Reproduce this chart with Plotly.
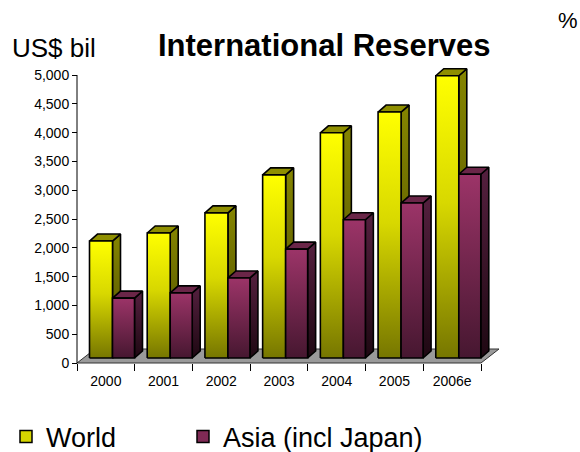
import plotly.graph_objects as go

# ---------------- data ----------------
categories = ["2000", "2001", "2002", "2003", "2004", "2005", "2006e"]
world = [2030, 2170, 2520, 3180, 3910, 4270, 4900]
asia = [1040, 1130, 1390, 1890, 2400, 2690, 3190]
y_tick_values = [0, 500, 1000, 1500, 2000, 2500, 3000, 3500, 4000, 4500, 5000]
y_tick_labels = ["0", "500", "1,000", "1,500", "2,000", "2,500", "3,000",
                 "3,500", "4,000", "4,500", "5,000"]
series_names = ["World", "Asia (incl Japan)"]

# ---------------- layout geometry ----------------
W, H = 580, 452
ml, mr, mt, mb = 60, 60, 60, 72
pw, ph = W - ml - mr, H - mt - mb
n = len(categories)
x0px, x1px = 77, 481
y0px, y5px = 363, 75
cat_px = (x1px - x0px) / n
val_px = (y0px - y5px) / max(y_tick_values)
xr = [(ml - x0px) / cat_px, (W - mr - x0px) / cat_px]
yr = [(y0px - (H - mb)) / val_px, (y0px - mt) / val_px]

FONT = "Arial, Liberation Sans, sans-serif"

lift = 5 / val_px          # bars stand a little behind the front floor edge
ddx = 8 / cat_px           # bar depth offsets
ddy = 7 / val_px
fdx = 18 / cat_px          # floor depth offsets
fdy = 14 / val_px

styles = {
    "World": dict(x_from=12.5 / cat_px, x_to=35.5 / cat_px,
                  front=[[0, "#767600"], [0.55, "#d8d800"], [1, "#ffff00"]],
                  side=[[0, "#4a4a00"], [1, "#858500"]],
                  top="#8f8f00", legend="#d6d600", legend_x=6),
    "Asia (incl Japan)": dict(x_from=35.5 / cat_px, x_to=57.5 / cat_px,
                              front=[[0, "#461730"], [1, "#9c3468"]],
                              side=[[0, "#1e0812"], [1, "#55203f"]],
                              top="#6a2648", legend="#7f2a55", legend_x=183),
}

fig = go.Figure()

# floor
fx = [0, n, n + fdx, fdx, 0]
fy = [0, 0, fdy, fdy, 0]
fig.add_trace(go.Scatter(x=fx, y=fy, fill="toself", fillcolor="#9a9a9a",
                         mode="lines", line=dict(color="#333333", width=1),
                         hoverinfo="skip", showlegend=False))

LW = 1.6
for i, cat in enumerate(categories):
    for name, vals in zip(series_names, [world, asia]):
        st = styles[name]
        xa = i + st["x_from"]
        xb = i + st["x_to"]
        b = lift
        t = lift + vals[i]
        # side face
        fig.add_trace(go.Scatter(
            x=[xb, xb + ddx, xb + ddx, xb, xb],
            y=[b, b + ddy, t + ddy, t, b],
            fill="toself", mode="lines",
            fillgradient=dict(type="vertical", colorscale=st["side"]),
            line=dict(color="black", width=LW),
            hoverinfo="skip", showlegend=False))
        # top face
        fig.add_trace(go.Scatter(
            x=[xa, xb, xb + ddx, xa + ddx, xa],
            y=[t, t, t + ddy, t + ddy, t],
            fill="toself", mode="lines", fillcolor=st["top"],
            line=dict(color="black", width=LW),
            hoverinfo="skip", showlegend=False))
        # front face
        fig.add_trace(go.Scatter(
            x=[xa, xb, xb, xa, xa],
            y=[b, b, t, t, b],
            fill="toself", mode="lines",
            fillgradient=dict(type="vertical", colorscale=st["front"]),
            line=dict(color="black", width=LW),
            hoverinfo="skip", showlegend=False))

# legend entries (one legend box per series, placed side by side)
legend_names = ["legend", "legend2"]
for name, lg in zip(series_names, legend_names):
    fig.add_trace(go.Bar(x=[None], y=[None], name=name, legend=lg,
                         marker=dict(color=styles[name]["legend"],
                                     line=dict(color="black", width=1.5))))

legend_common = dict(orientation="h", xanchor="left",
                     y=(H - mb - 437) / ph, yanchor="middle",
                     font=dict(size=27, family=FONT),
                     bgcolor="rgba(0,0,0,0)", borderwidth=0,
                     itemclick=False, itemdoubleclick=False)

fig.update_layout(
    width=W, height=H,
    margin=dict(l=ml, r=mr, t=mt, b=mb, autoexpand=False),
    paper_bgcolor="white", plot_bgcolor="white",
    font=dict(family=FONT, color="black"),
    showlegend=True,
    legend=dict(x=(styles["World"]["legend_x"] - ml) / pw, **legend_common),
    legend2=dict(x=(styles["Asia (incl Japan)"]["legend_x"] - ml) / pw,
                 **legend_common),
    xaxis=dict(range=xr, anchor="free", position=(H - mb - y0px) / ph,
               showgrid=False, zeroline=False, showline=False,
               tickvals=[i + 0.5 for i in range(n)], ticktext=categories,
               ticks="outside", ticklen=5, tickcolor="rgba(0,0,0,0)",
               tickfont=dict(size=14, family=FONT),
               minor=dict(tickvals=list(range(n + 1)), ticks="outside",
                          ticklen=7, tickcolor="black", tickwidth=1,
                          showgrid=False)),
    yaxis=dict(range=yr, anchor="free", position=(x0px - ml) / pw,
               showgrid=False, zeroline=False, showline=False,
               tickvals=y_tick_values, ticktext=y_tick_labels,
               ticks="outside", ticklen=5, tickcolor="black", tickwidth=1,
               tickfont=dict(size=14, family=FONT)),
    shapes=[dict(type="line", xref="x", yref="y", x0=0, x1=0,
                 y0=0, y1=max(y_tick_values),
                 line=dict(color="black", width=1))],
    annotations=[
        dict(text="<b>International Reserves</b>", xref="paper", yref="paper",
             x=(324 - ml) / pw, y=(H - mb - 45) / ph, xanchor="center",
             yanchor="middle", showarrow=False,
             font=dict(size=31, family=FONT)),
        dict(text="US$ bil", xref="paper", yref="paper",
             x=(10 - ml) / pw, y=(H - mb - 48) / ph, xanchor="left",
             yanchor="middle", showarrow=False,
             font=dict(size=26, family=FONT)),
        dict(text="%", xref="paper", yref="paper",
             x=(556 - ml) / pw, y=(H - mb - 20) / ph, xanchor="left",
             yanchor="middle", showarrow=False,
             font=dict(size=22, family=FONT)),
    ],
)

fig.write_html("out.html")
